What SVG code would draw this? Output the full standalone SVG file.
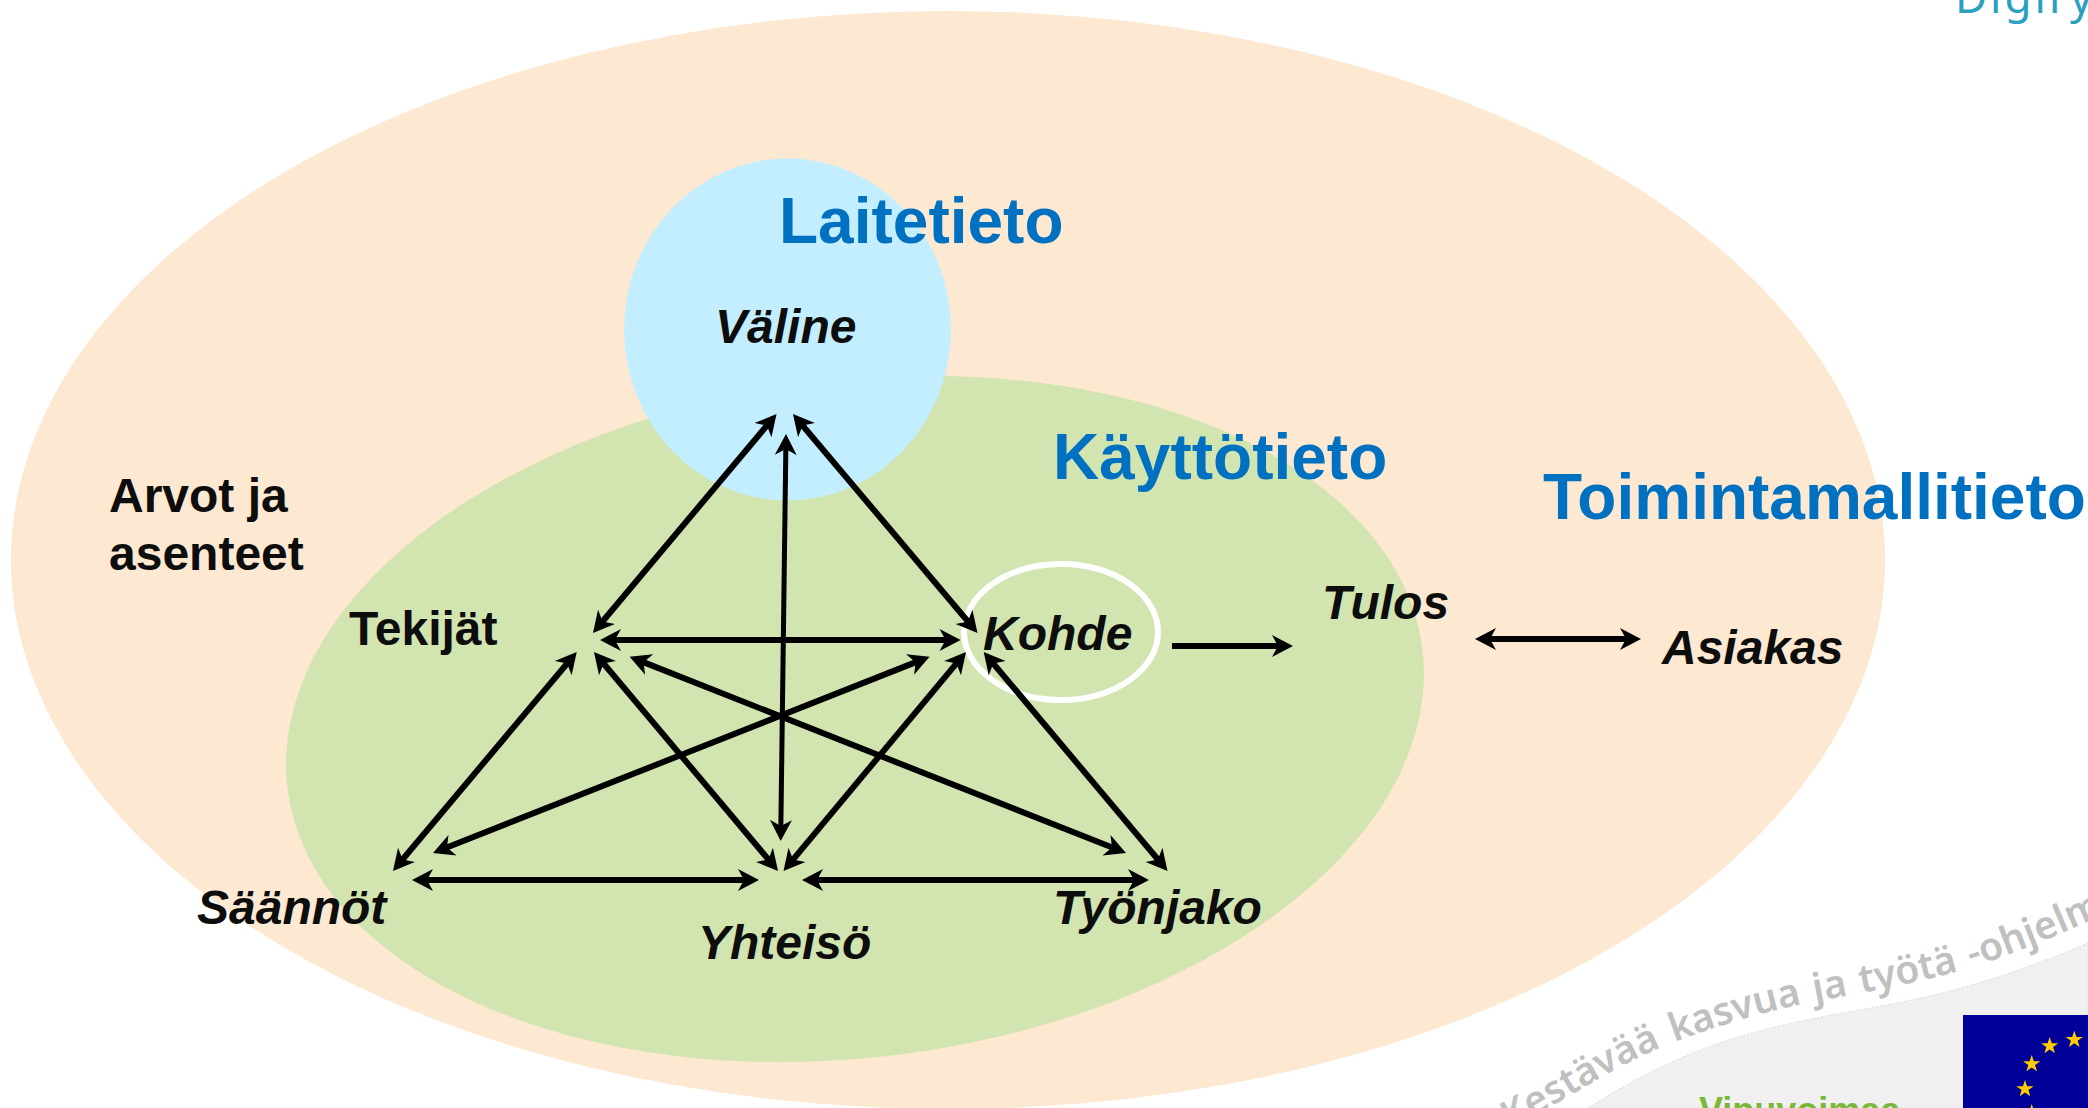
<svg xmlns="http://www.w3.org/2000/svg" width="2088" height="1108" viewBox="0 0 2088 1108">
<style>
text{font-family:"Liberation Sans",Arial,sans-serif;font-weight:700}
.h{fill:#0070c0;font-size:64px}
.l{fill:#0d0d0d;font-size:48px}
.i{font-style:italic}
.c line{stroke:#000;stroke-width:6;marker-start:url(#a);marker-end:url(#a)}
.c line.s{marker-start:none}
.c line.v{stroke-width:5}
.star{fill:#ffcc00}
</style>
<defs>
<marker id="a" markerUnits="userSpaceOnUse" markerWidth="32" markerHeight="32" refX="16" refY="16" orient="auto-start-reverse" viewBox="0 0 32 32"><path d="M26,16L5,5L11,16L5,27Z" fill="#000"/></marker>
<path id="wm" d="M1510,1130C1570,1097 1620,1063 1672,1043C1720,1025 1760,1013 1798,1005C1850,994 1920,985 1987,962C2030,948 2080,925 2120,908"/>
<polygon id="st" points="0,-9 2.1,-2.8 8.6,-2.8 3.4,1.1 5.3,7.3 0,3.5 -5.3,7.3 -3.4,1.1 -8.6,-2.8 -2.1,-2.8"/>
</defs>
<rect width="2088" height="1108" fill="#fff"/>
<g id="background-band">
<path d="M1588,1108C1640,1075 1700,1045 1767,1029C1810,1018 1850,1012 1897,1003C1965,990 2030,968 2088,943V1108Z" fill="#f0f0f0" stroke="#c8c8c8" stroke-width="0.6" stroke-dasharray="2 2"/>
<text font-size="44" letter-spacing="3" style="font-family:'Noto Sans',sans-serif;font-weight:400" fill="#2a9fbf" x="1955" y="13">Digiry</text>
<text font-size="39" word-spacing="3" style="font-family:'Noto Sans',sans-serif;font-weight:600" fill="#c0c0c0"><textPath href="#wm" startOffset="0">Kestävää kasvua ja työtä -ohjelma</textPath></text>
<text font-size="36" fill="#7ab839" x="1699" y="1123">Vipuvoimaa</text>
</g>
<g id="toimintamallitieto"><ellipse cx="948" cy="560" rx="937" ry="549" fill="#fde8d1"/></g>
<g id="kayttotieto"><ellipse cx="855" cy="719" rx="571.7" ry="338.4" transform="rotate(-7 855 719)" fill="#d2e4b0"/></g>
<g id="laitetieto"><ellipse cx="787.5" cy="329.5" rx="163.5" ry="171" fill="#c3eeff"/></g>
<g id="kohde-ring"><ellipse cx="1061" cy="632" rx="97" ry="68" fill="none" stroke="#fff" stroke-width="6"/></g>
<g id="eu-flag"><rect x="1963" y="1015" width="125" height="93" fill="#000099"/>
<use href="#st" class="star" x="2074.3" y="1039.7"/><use href="#st" class="star" x="2049.7" y="1046"/><use href="#st" class="star" x="2031.7" y="1064"/><use href="#st" class="star" x="2025" y="1089"/><use href="#st" class="star" x="2031.7" y="1113"/></g>
<g id="labels">
<text class="h" x="779" y="243">Laitetieto</text>
<text class="h" x="1053" y="479">Käyttötieto</text>
<text class="h" x="1543" y="519">Toimintamallitieto</text>
<text class="l" x="109" y="512">Arvot ja</text>
<text class="l" x="109" y="570">asenteet</text>
<text class="l" x="349" y="645">Tekijät</text>
<text class="l i" x="715" y="343">Väline</text>
<text class="l i" x="983" y="650">Kohde</text>
<text class="l i" x="1322" y="619">Tulos</text>
<text class="l i" x="1662" y="664">Asiakas</text>
<text class="l i" x="197" y="924">Säännöt</text>
<text class="l i" x="698" y="959">Yhteisö</text>
<text class="l i" x="1053" y="924">Työnjako</text>
</g>
<g id="connectors" class="c">
<line x1="599.4" y1="625.3" x2="770.1" y2="421.7"/>
<line x1="799.4" y1="421.7" x2="971.1" y2="625.3"/>
<line class="v" x1="785.9" y1="444" x2="780.8" y2="831"/>
<line x1="610" y1="640" x2="950.6" y2="640"/>
<line x1="638.9" y1="660.4" x2="1116.7" y2="849.3"/>
<line x1="920.3" y1="660.4" x2="442.3" y2="849.3"/>
<line x1="399.4" y1="863.3" x2="570.3" y2="659.7"/>
<line x1="600.4" y1="659.7" x2="771.6" y2="863.3"/>
<line x1="789.9" y1="863.3" x2="959.6" y2="659.7"/>
<line x1="990.1" y1="659.7" x2="1161.1" y2="863.3"/>
<line x1="422" y1="880" x2="749" y2="880"/>
<line x1="812" y1="880" x2="1139" y2="880"/>
<line class="s" x1="1172" y1="646" x2="1283" y2="646"/>
<line x1="1485" y1="639" x2="1631" y2="639"/>
</g>
</svg>
